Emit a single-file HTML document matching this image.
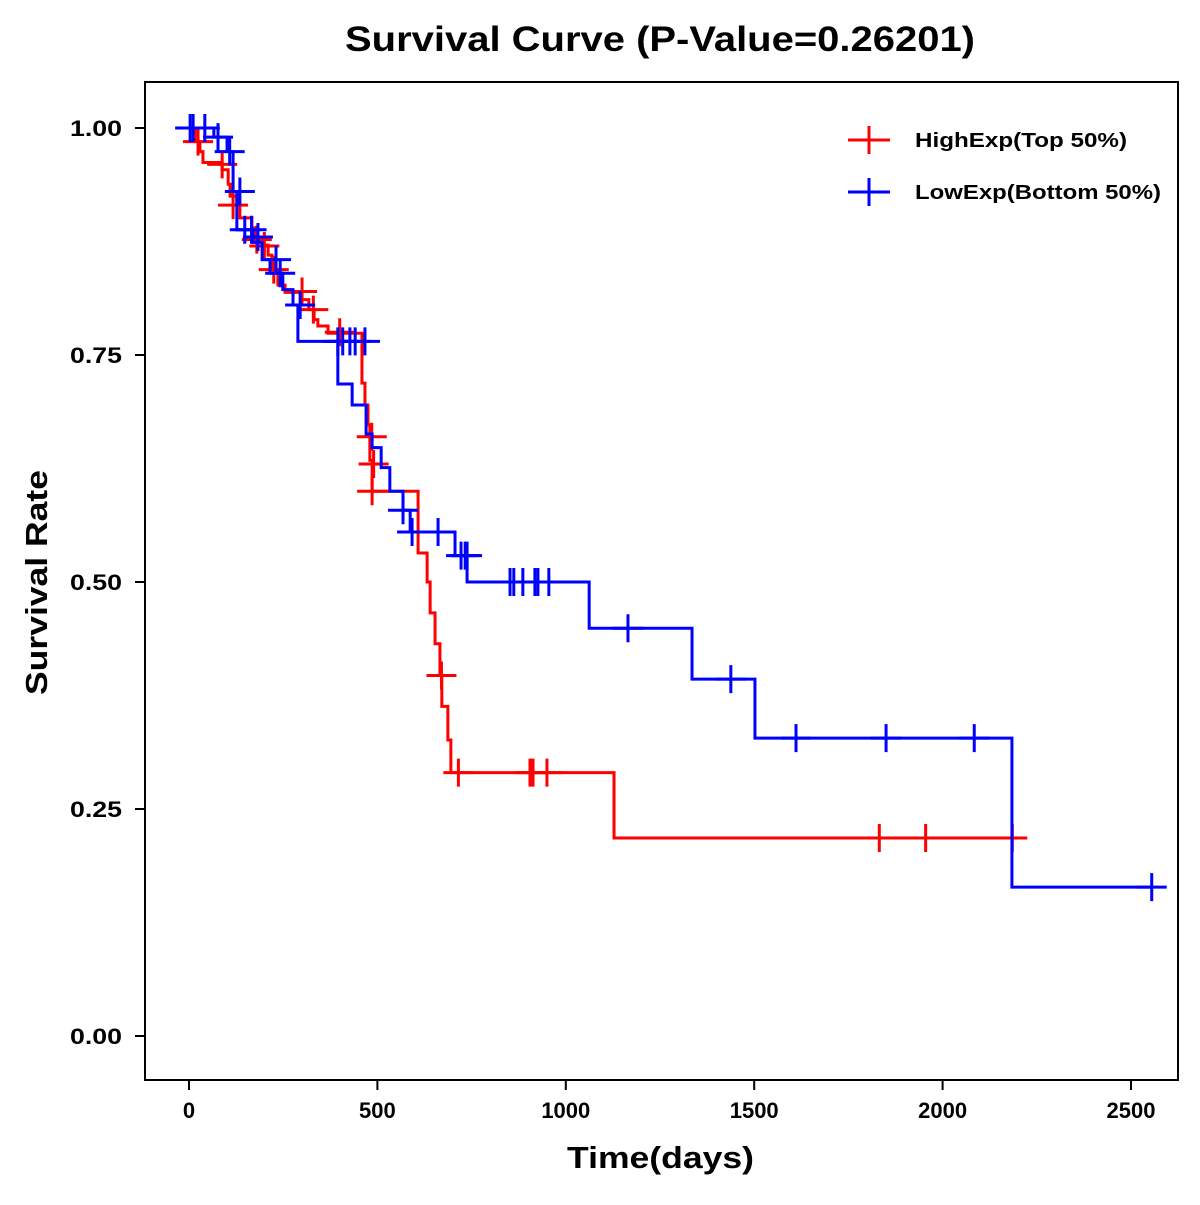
<!DOCTYPE html>
<html><head><meta charset="utf-8"><style>
body{margin:0;background:#fff}
svg text{font-family:"Liberation Sans",Arial,sans-serif;font-weight:bold}
</style></head><body>
<svg id="chart" width="1200" height="1200" xmlns="http://www.w3.org/2000/svg">
<rect width="1200" height="1200" fill="#fff"/>
<text x="345" y="51" font-size="35" textLength="630" lengthAdjust="spacingAndGlyphs">Survival Curve (P-Value=0.26201)</text>
<rect x="145" y="82" width="1033" height="998" fill="none" stroke="#000" stroke-width="2"/>
<g id="axes"></g>
<g id="series"></g>
<text x="567" y="1168" font-size="31" textLength="187" lengthAdjust="spacingAndGlyphs">Time(days)</text>
<text transform="translate(47,695) rotate(-90)" font-size="31" textLength="225" lengthAdjust="spacingAndGlyphs">Survival Rate</text>
<g>
<line x1="848" y1="140" x2="890" y2="140" stroke="#f00" stroke-width="3"/>
<line x1="869" y1="126" x2="869" y2="154" stroke="#f00" stroke-width="3"/>
<text x="915" y="147" font-size="20" textLength="212" lengthAdjust="spacingAndGlyphs">HighExp(Top 50%)</text>
<line x1="848" y1="192" x2="890" y2="192" stroke="#00f" stroke-width="3"/>
<line x1="869" y1="178" x2="869" y2="206" stroke="#00f" stroke-width="3"/>
<text x="915" y="199" font-size="20" textLength="246" lengthAdjust="spacingAndGlyphs">LowExp(Bottom 50%)</text>
</g>
</svg>
<script>
const xTicks=[0,500,1000,1500,2000,2500];
const yTicks=[0,0.25,0.5,0.75,1.0];
const yTickLabels=["0.00","0.25","0.50","0.75","1.00"];
const highTimes=[0,16,29,37,88,104,109,127,135,167,178,194,210,220,236,255,300,318,332,342,369,459,467,475,480,486,608,632,640,653,666,671,687,695,1128];
const highSurv=[1,0.985,0.974,0.962,0.954,0.938,0.925,0.915,0.901,0.890,0.877,0.871,0.860,0.844,0.827,0.819,0.811,0.800,0.789,0.782,0.774,0.719,0.695,0.673,0.634,0.600,0.532,0.500,0.466,0.432,0.397,0.363,0.326,0.290,0.218];
const highEnd=2185;
const highCensorT=[24,88,117,180,200,225,300,330,400,485,490,486,670,715,905,913,950,1832,1955,2185];
const highCensorS=[0.985,0.96,0.915,0.877,0.87,0.844,0.82,0.80,0.775,0.66,0.63,0.60,0.397,0.29,0.29,0.29,0.29,0.218,0.218,0.218];
const lowTimes=[0,66,101,117,127,170,194,215,249,276,289,395,433,470,486,510,533,568,587,706,738,1062,1335,1502,2184];
const lowSurv=[1,0.990,0.974,0.930,0.888,0.874,0.855,0.840,0.822,0.805,0.765,0.718,0.695,0.663,0.648,0.626,0.600,0.579,0.555,0.529,0.500,0.449,0.393,0.328,0.164];
const lowEnd=2560;
const lowCensorT=[3,11,42,77,108,135,148,166,183,231,242,295,395,408,427,441,467,568,592,661,722,733,738,852,862,886,918,926,955,1165,1438,1611,1850,2084,2555];
const lowCensorS=[1,1,1,0.99,0.974,0.93,0.888,0.888,0.88,0.855,0.84,0.805,0.765,0.765,0.765,0.765,0.765,0.579,0.555,0.555,0.529,0.529,0.529,0.5,0.5,0.5,0.5,0.5,0.5,0.449,0.393,0.328,0.328,0.328,0.164];
const NS="http://www.w3.org/2000/svg";
const X=t=>189+t*(942/2500);
const Y=s=>1036-s*908;
const axes=document.getElementById('axes'),series=document.getElementById('series');
function mk(tag,attrs,parent){const e=document.createElementNS(NS,tag);for(const k in attrs)e.setAttribute(k,attrs[k]);parent.appendChild(e);return e;}
xTicks.forEach(t=>{
 const l=mk('line',{x1:X(t),x2:X(t),y1:1080,y2:1090,stroke:'#000','stroke-width':2},axes);
 
 
 const tx=mk('text',{x:X(t),y:1118,'font-size':22,'text-anchor':'middle'},axes);tx.textContent=t;
 
 
});
yTicks.forEach((s,i)=>{
 const l=mk('line',{x1:135,x2:145,y1:Y(s),y2:Y(s),stroke:'#000','stroke-width':2},axes);
 
 
 const tx=mk('text',{x:70,y:Y(s)+8,'font-size':22,textLength:52,lengthAdjust:'spacingAndGlyphs'},axes);tx.textContent=yTickLabels[i];
 
 
});
function drawSeries(times,surv,end,ct,cs,color,name){
 let d='M'+(X(0)-7)+','+Y(surv[0]);
 for(let i=1;i<times.length;i++){d+=' H'+X(times[i])+' V'+Y(surv[i]);}
 d+=' H'+X(end);
 const p=mk('path',{d:d,fill:'none',stroke:color,'stroke-width':3},series);
 
 
 ct.forEach((t,i)=>{
  const x=X(t),y=Y(cs[i]);
  const c=mk('path',{d:`M${x-15},${y} H${x+15} M${x},${y-14} V${y+14}`,stroke:color,'stroke-width':3},series);
  
  
 });
}
drawSeries(highTimes,highSurv,highEnd,highCensorT,highCensorS,'#f00','high-exp');
drawSeries(lowTimes,lowSurv,lowEnd,lowCensorT,lowCensorS,'#00f','low-exp');
</script>
</body></html>
